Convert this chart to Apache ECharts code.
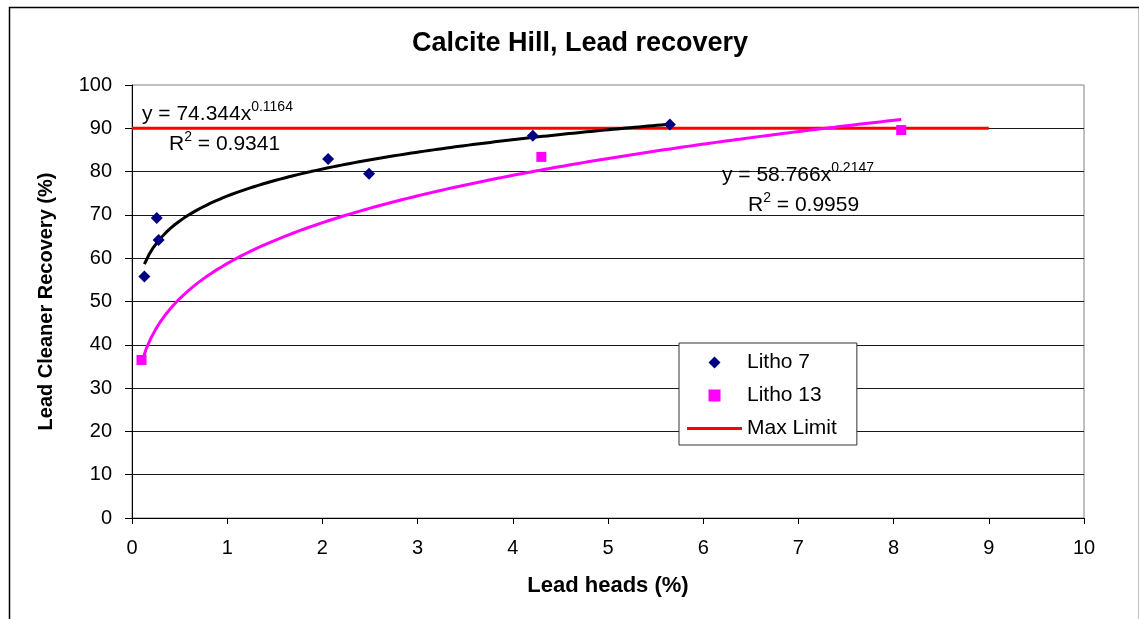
<!DOCTYPE html>
<html>
<head>
<meta charset="utf-8">
<script src="https://cdn.jsdelivr.net/npm/echarts@6/dist/echarts.min.js"></script>
<style>
  html, body { margin: 0; padding: 0; background: #fff; }
  #chart { width: 1139px; height: 619px; }
</style>
</head>
<body>
<div id="chart"></div>
<script>
// Measured samples: lead heads (%) vs lead cleaner recovery (%)
const litho7X = [0.13, 0.26, 0.28, 2.06, 2.49, 4.21, 5.65];
const litho7Y = [55.8, 69.3, 64.2, 82.9, 79.5, 88.3, 90.9];
const litho13X = [0.10, 4.30, 8.08];
const litho13Y = [36.5, 83.4, 89.6];

// Recovery ceiling
const maxLimitX = [0, 9];
const maxLimitY = [90, 90];

// Power-law trend coefficients (y = a * x^b) and goodness of fit
const fit7A = 74.344, fit7B = 0.1164, fit7R2 = 0.9341;
const fit13A = 58.766, fit13B = 0.2147, fit13R2 = 0.9959;

// Axis ranges
const xMin = 0, xMax = 10, xStep = 1;
const yMin = 0, yMax = 100, yStep = 10;

const FONT = '"Liberation Sans", Arial, sans-serif';

function pairs(xs, ys) { return xs.map((x, i) => [x, ys[i]]); }

// Sample the fitted power curve across the span of the series it was fitted to
function powerCurve(xs, a, b, steps) {
  const lo = Math.min(...xs), hi = Math.max(...xs);
  const out = [];
  for (let i = 0; i <= steps; i++) {
    const x = lo + (hi - lo) * i / steps;
    out.push([x, a * Math.pow(x, b)]);
  }
  return out;
}

const eqStyles = {
  m: { fontSize: 21, fontFamily: FONT, fill: '#000', lineHeight: 28 },
  s: { fontSize: 14, fontFamily: FONT, fill: '#000', verticalAlign: 'top', lineHeight: 14 }
};
function eqRich(a, b) {
  return { text: '{m|y = ' + a.toFixed(3) + 'x}{s|' + b + '}', rich: eqStyles };
}
function r2Rich(r) {
  return { text: '{m|R}{s|2}{m| = ' + r.toFixed(4) + '}', rich: eqStyles };
}

// Legend glyphs (scaled to fit the legend box with aspect kept)
const diamondIcon = 'path://M0,5L5,0L10,5L5,10Z';
const squareIcon = 'path://M1,1L9,1L9,9L1,9Z';
const barIcon = 'path://M0,0L55,0L55,3L0,3Z';

const chart = echarts.init(document.getElementById('chart'), null, { renderer: 'canvas' });

chart.setOption({
  backgroundColor: '#fff',
  animation: false,
  title: {
    text: 'Calcite Hill, Lead recovery',
    left: 575,
    textAlign: 'center',
    top: 25,
    textStyle: { fontFamily: FONT, fontWeight: 'bold', fontSize: 27, color: '#000' }
  },
  grid: {
    left: 132, top: 85, right: 55, bottom: 101,
    show: true, backgroundColor: '#fff', borderColor: '#808080', borderWidth: 1
  },
  legend: {
    orient: 'vertical',
    left: 679, top: 343,
    padding: [9, 20, 6, 8],
    itemWidth: 55, itemHeight: 12, itemGap: 12,
    backgroundColor: '#fff',
    borderColor: '#333', borderWidth: 1,
    symbolKeepAspect: true,
    textStyle: { fontFamily: FONT, fontSize: 21, color: '#000' },
    data: [
      { name: 'Litho 7', icon: diamondIcon },
      { name: 'Litho 13', icon: squareIcon },
      { name: 'Max Limit', icon: barIcon }
    ]
  },
  xAxis: {
    type: 'value', min: xMin, max: xMax, interval: xStep,
    name: 'Lead heads (%)', nameLocation: 'middle', nameGap: 57,
    nameTextStyle: { fontFamily: FONT, fontWeight: 'bold', fontSize: 22, color: '#000' },
    axisLine: { show: true, onZero: false, lineStyle: { color: '#000', width: 1 } },
    axisTick: { show: true, inside: false, length: 6, lineStyle: { color: '#000' } },
    axisLabel: { margin: 20, fontFamily: FONT, fontSize: 20, color: '#000' },
    splitLine: { show: false }
  },
  yAxis: {
    type: 'value', min: yMin, max: yMax, interval: yStep,
    name: 'Lead Cleaner Recovery (%)', nameLocation: 'middle', nameGap: 76, nameRotate: 90,
    nameTextStyle: { fontFamily: FONT, fontWeight: 'bold', fontSize: 20, color: '#000' },
    axisLine: { show: true, onZero: false, lineStyle: { color: '#000', width: 1 } },
    axisTick: { show: true, inside: false, length: 7, lineStyle: { color: '#000' } },
    axisLabel: { margin: 20, fontFamily: FONT, fontSize: 20, color: '#000' },
    splitLine: { show: true, showMaxLine: false, showMinLine: false, lineStyle: { color: '#1a1a1a', width: 1 } }
  },
  series: [
    {
      name: 'Litho 7', type: 'scatter', z: 5,
      symbol: 'diamond', symbolSize: 12,
      itemStyle: { color: '#000080', opacity: 1 },
      data: pairs(litho7X, litho7Y)
    },
    {
      name: 'Litho 13', type: 'scatter', z: 5,
      symbol: 'rect', symbolSize: 10,
      itemStyle: { color: '#ff00ff', opacity: 1 },
      data: pairs(litho13X, litho13Y)
    },
    {
      name: 'Max Limit', type: 'line', z: 2,
      symbol: 'none', showSymbol: false,
      lineStyle: { color: '#ff0000', width: 3 },
      itemStyle: { color: '#ff0000' },
      data: pairs(maxLimitX, maxLimitY)
    },
    {
      name: 'Power (Litho 7)', type: 'line', z: 3,
      symbol: 'none', showSymbol: false, smooth: false,
      lineStyle: { color: '#000', width: 3 },
      data: powerCurve(litho7X, fit7A, fit7B, 120)
    },
    {
      name: 'Power (Litho 13)', type: 'line', z: 3,
      symbol: 'none', showSymbol: false, smooth: false,
      lineStyle: { color: '#ff00ff', width: 3 },
      data: powerCurve(litho13X, fit13A, fit13B, 160)
    }
  ],
  graphic: [
    {
      type: 'rect', left: 7, top: 5, silent: true, z: 100,
      shape: { width: 1130, height: 700 },
      style: { fill: 'none', stroke: '#000', lineWidth: 1.5 }
    },
    { type: 'text', left: 142, top: 100, z: 50, style: eqRich(fit7A, fit7B) },
    { type: 'text', left: 169, top: 130, z: 50, style: r2Rich(fit7R2) },
    { type: 'text', left: 722, top: 161, z: 50, style: eqRich(fit13A, fit13B) },
    { type: 'text', left: 748, top: 191, z: 50, style: r2Rich(fit13R2) }
  ]
});
</script>
</body>
</html>
